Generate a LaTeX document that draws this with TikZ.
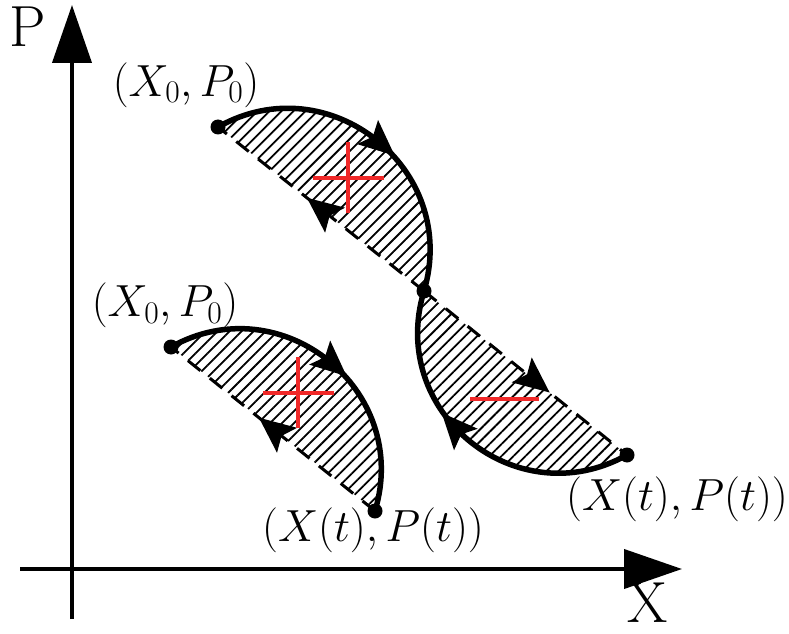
\documentclass[tikz,border=0pt]{standalone}
\usepackage{fix-cm}
\usetikzlibrary{arrows.meta,patterns.meta}
\definecolor{signrot}{RGB}{240,40,40}

% Pfeilspitze auf den Bahnen
\newcommand{\pfeilspitze}{\tikz\fill[solid] (18pt,0pt) -- (-18pt,16pt)
	-- (-11pt,0pt) -- (-18pt,-16pt) -- cycle;}

\begin{document}
\begin{tikzpicture}[x=1pt, y=1pt,
	achse/.style={line width=4pt, -{Triangle[length=58pt,width=39pt]}},
	bogen/.style={line width=5.5pt},
	sehne/.style={line width=3pt, dash pattern=on 16pt off 12pt},
	schraffur/.style={pattern={Lines[angle=45,distance=8.5pt,line width=1.8pt]}},
	pfeil/.style={sloped, allow upside down, inner sep=0pt, outer sep=0pt},
	biegung/.style={bend left=68, looseness=1.24},
	marke/.style={font=\fontsize{45}{48}\selectfont},
	achsmarke/.style={font=\fontsize{58}{60}\selectfont},
	vorzeichen/.style={signrot, line width=4pt}]
	
	\useasboundingbox (0,0) rectangle (789,633);
	
	% Punkte der Phasenraum-Bahnen
	\coordinate (a1) at (218,506);
	\coordinate (m) at (424,342);
	\coordinate (b1) at (627,178);
	\coordinate (a2) at (171,286);
	\coordinate (b2) at (375,122);
	
	% Achsen
	\coordinate (xanfang) at (20,64);
	\coordinate (xende) at (682,64);
	\coordinate (yanfang) at (72,14);
	\coordinate (yende) at (72,628);
	\draw[achse] (xanfang) -- (xende);
	\draw[achse] (yanfang) -- (yende);
	\node[achsmarke] (lp) at (28,606) {P};
	\node[achsmarke] (lx) at (648,30) {X};
	
	% Schraffierte Flaechen
	\fill[schraffur] (a1) to[biegung] (m) -- cycle;
	\fill[schraffur] (b1) to[biegung] (m) -- cycle;
	\fill[schraffur] (a2) to[biegung] (b2) -- cycle;
	
	% Obere Schleife (positiv)
	\draw[bogen] (a1) to[biegung] node[pfeil, pos=0.52] {\pfeilspitze} (m);
	\draw[sehne] (m) -- node[pfeil, pos=0.5] {\pfeilspitze} (a1);
	
	% Untere Schleife rechts (negativ)
	\draw[bogen] (b1) to[biegung] node[pfeil, pos=0.57] {\pfeilspitze} (m);
	\draw[sehne] (m) -- node[pfeil, pos=0.55] {\pfeilspitze} (b1);
	
	% Schleife links (positiv)
	\draw[bogen] (a2) to[biegung] node[pfeil, pos=0.52] {\pfeilspitze} (b2);
	\draw[sehne] (b2) -- node[pfeil, pos=0.5] {\pfeilspitze} (a2);
	
	% Vorzeichen
	\draw[vorzeichen] (313,455) -- (384,455);
	\draw[vorzeichen] (348,491) -- (348,420);
	\draw[vorzeichen] (263,240) -- (334,240);
	\draw[vorzeichen] (298,276) -- (298,205);
	\draw[vorzeichen] (470,234) -- (539,234);
	
	% Punkte
	\foreach \p in {a1,m,b1,a2,b2}
		\fill (\p) circle (7.5pt);
	
	% Beschriftungen
	\node[marke] (l1) at (186,548) {$(X_0,P_0)$};
	\node[marke] (l2) at (165,328) {$(X_0,P_0)$};
	\node[marke] (l3) at (373,103) {$(X(t),P(t))$};
	\node[marke] (l4) at (677,134) {$(X(t),P(t))$};
	
\end{tikzpicture}
\end{document}
